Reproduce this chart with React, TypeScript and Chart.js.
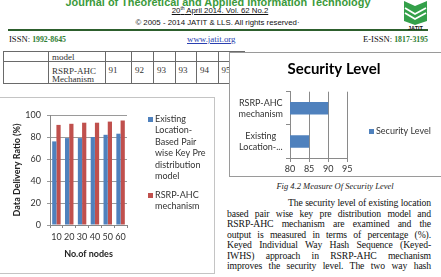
import React, { useEffect, useRef } from "react";
import { Chart, registerables } from "chart.js";

Chart.register(...registerables);

// ---- data ----
const nodeCounts = ["10", "20", "30", "40", "50", "60"];
const existingRatio = [76, 79, 79, 80, 82, 83];
const rsrpRatio = [91, 92, 93, 93, 94, 95];
const ratioSeriesNames = [
  "Existing Location-Based Pair wise Key Pre distribution model",
  "RSRP-AHC mechanism",
];
const ratioLegendLines = [
  ["Existing", "Location-", "Based Pair", "wise Key Pre", "distribution", "model"],
  ["RSRP-AHC", "mechanism"],
];
const ratioAxisTitle = "Data Delivery Ratio (%)";
const nodesAxisTitle = "No.of nodes";

const securityTitle = "Security Level";
const securityCategories = [["RSRP-AHC", "mechanism"], ["Existing", "Location-..."]];
const securityValues = [90, 85];
const securitySeriesName = "Security Level";

const tableValues = ["91", "92", "93", "93", "94", "95"];

const bodyLines = [
  "The security level of existing location",
  "based pair wise key pre distribution model and",
  "RSRP-AHC mechanism are examined and the",
  "output is measured in terms of percentage (%).",
  "Keyed Individual Way Hash Sequence (Keyed-",
  "IWHS) approach in RSRP-AHC mechanism",
  "improves the security level. The two way hash",
];

const BLUE = "#4f81bd";
const RED = "#c0504d";
const CHART_FONT = "Lato";

function RatioChart() {
  const ref = useRef<HTMLCanvasElement | null>(null);
  useEffect(() => {
    const legendPlugin = {
      id: "ratioLegend",
      afterDraw(chart: any) {
        const { ctx, chartArea } = chart;
        const x0 = chartArea.right + 21;
        const starts = [22, 98];
        ctx.save();
        ctx.font = `9px ${CHART_FONT}`;
        ctx.textBaseline = "middle";
        ctx.textAlign = "left";
        chart.data.datasets.forEach((ds: any, i: number) => {
          const y = starts[i];
          ctx.fillStyle = ds.backgroundColor;
          ctx.fillRect(x0, y - 2, 5, 5);
          ctx.fillStyle = "#333";
          ratioLegendLines[i].forEach((line, j) => ctx.fillText(line, x0 + 7, y + j * 11.5));
        });
        ctx.restore();
      },
    };
    const chart = new Chart(ref.current!, {
      type: "bar",
      data: {
        labels: nodeCounts,
        datasets: [
          { label: ratioSeriesNames[0], data: existingRatio, backgroundColor: BLUE, categoryPercentage: 0.66, barPercentage: 1 },
          { label: ratioSeriesNames[1], data: rsrpRatio, backgroundColor: RED, categoryPercentage: 0.66, barPercentage: 1 },
        ],
      },
      options: {
        responsive: false,
        animation: false,
        layout: { padding: { top: 18, right: 87, bottom: 0, left: 0 } },
        plugins: { legend: { display: false }, title: { display: false }, tooltip: { enabled: false } },
        scales: {
          x: {
            grid: { display: true, drawOnChartArea: false, drawTicks: true, tickLength: 3, color: "#888", offset: true },
            border: { display: true, color: "#888" },
            ticks: { font: { family: CHART_FONT, size: 9 }, color: "#333", padding: 4, maxRotation: 0, autoSkip: false },
            title: {
              display: true,
              text: nodesAxisTitle,
              font: { family: CHART_FONT, size: 9, weight: "bold" },
              color: "#222",
              padding: { top: 0, bottom: 14 },
            },
            afterFit: (s: any) => {
              s.height = 48;
            },
          },
          y: {
            min: 0,
            max: 100,
            ticks: { stepSize: 20, font: { family: CHART_FONT, size: 9 }, color: "#333", padding: 6 },
            grid: { color: "#9a9a9a", tickLength: 3 },
            border: { display: true, color: "#888" },
            title: {
              display: true,
              text: ratioAxisTitle,
              font: { family: CHART_FONT, size: 9, weight: "bold" },
              color: "#222",
              padding: { top: 11.5, bottom: 0 },
            },
            afterFit: (s: any) => {
              s.width = 50;
            },
          },
        },
      } as any,
      plugins: [legendPlugin],
    });
    return () => chart.destroy();
  }, []);
  return (
    <canvas
      ref={ref}
      width={214}
      height={176}
      style={{ position: "absolute", left: 0, top: 97, width: 214, height: 176 }}
    />
  );
}

function SecurityChart() {
  const ref = useRef<HTMLCanvasElement | null>(null);
  useEffect(() => {
    const decorPlugin = {
      id: "securityDecor",
      afterDraw(chart: any) {
        const { ctx } = chart;
        ctx.save();
        ctx.font = `bold 15px ${CHART_FONT}`;
        ctx.textAlign = "center";
        ctx.textBaseline = "middle";
        ctx.fillStyle = "#000";
        ctx.fillText(securityTitle, 104, 17.5);
        const ds = chart.data.datasets[0];
        ctx.fillStyle = ds.backgroundColor;
        ctx.fillRect(139, 77, 5, 5);
        ctx.font = `9px ${CHART_FONT}`;
        ctx.textAlign = "left";
        ctx.fillStyle = "#333";
        ctx.fillText(ds.label, 146, 79.5);
        ctx.restore();
      },
    };
    const chart = new Chart(ref.current!, {
      type: "bar",
      data: {
        labels: securityCategories as any,
        datasets: [
          { label: securitySeriesName, data: securityValues, backgroundColor: BLUE, categoryPercentage: 1, barPercentage: 0.38 },
        ],
      },
      options: {
        indexAxis: "y",
        responsive: false,
        animation: false,
        layout: { padding: { top: 39.7, right: 93.7, bottom: 0, left: 0 } },
        plugins: { legend: { display: false }, title: { display: false }, tooltip: { enabled: false } },
        scales: {
          x: {
            min: 80,
            max: 95,
            ticks: { stepSize: 5, font: { family: CHART_FONT, size: 9 }, color: "#333", padding: 1.5 },
            grid: { color: "#8a8a8a", tickLength: 4 },
            border: { display: true, color: "#8a8a8a" },
            afterFit: (s: any) => {
              s.height = 18;
            },
          },
          y: {
            grid: { display: true, drawOnChartArea: false, tickLength: 4, color: "#8a8a8a", offset: true },
            border: { display: true, color: "#8a8a8a" },
            ticks: { crossAlign: "center", padding: 3, font: { family: CHART_FONT, size: 9 }, color: "#333" },
            afterFit: (s: any) => {
              s.width = 60;
            },
          },
        },
      } as any,
      plugins: [decorPlugin],
    });
    return () => chart.destroy();
  }, []);
  return (
    <canvas
      ref={ref}
      width={211}
      height={124}
      style={{ position: "absolute", left: 230, top: 52, width: 211, height: 124 }}
    />
  );
}

const serif = "'Liberation Serif', 'Times New Roman', serif";
const sans = "'Liberation Sans', Arial, sans-serif";

function Header() {
  return (
    <>
      <div
        style={{
          position: "absolute", left: 0, width: 436, top: -3.2, textAlign: "center",
          fontFamily: sans, fontWeight: "bold", fontSize: 10.9, lineHeight: "10.9px", color: "#3b9a3b", whiteSpace: "nowrap",
        }}
      >
        Journal of Theoretical and Applied Information Technology
      </div>
      <div
        style={{
          position: "absolute", left: 0, width: 440, top: 7, textAlign: "center",
          fontFamily: sans, fontSize: 7.8, lineHeight: "8px", color: "#111", whiteSpace: "nowrap", textDecoration: "underline",
        }}
      >
        20<span style={{ fontSize: 5, verticalAlign: "3px", lineHeight: 0 }}>th</span> April 2014. Vol. 62 No.2
      </div>
      <div
        style={{
          position: "absolute", left: 0, width: 435, top: 19.4, textAlign: "center",
          fontFamily: sans, fontSize: 7.8, lineHeight: "8px", color: "#111", whiteSpace: "nowrap",
        }}
      >
        © 2005 - 2014 JATIT &amp; LLS. All rights reserved·
      </div>
      <div style={{ position: "absolute", left: 8, top: 29.3, width: 420, height: 1.6, background: "#2d5f2d" }} />
      <svg style={{ position: "absolute", left: 401, top: 0 }} width={29} height={30} viewBox="0 0 29 30">
        <polygon points="3,1 14,6 26,1 26,21 14,25 3,21" fill="#34a04a" />
        <polyline points="4,8 14,14 25,8" fill="none" stroke="#fff" strokeWidth={1.8} />
        <polyline points="4,13 14,19 25,13" fill="none" stroke="#fff" strokeWidth={1.8} />
        <text x={14.5} y={29.5} textAnchor="middle" fontFamily={sans} fontWeight="bold" fontSize={5.5} fill="#111">
          JATIT
        </text>
      </svg>
      <div
        style={{
          position: "absolute", left: 9, top: 34.8, fontFamily: serif, fontSize: 8.6, lineHeight: "9px",
          color: "#111", whiteSpace: "nowrap",
        }}
      >
        ISSN: <span style={{ color: "#2e7d32", fontWeight: "bold", fontSize: 7.8 }}>1992-8645</span>
      </div>
      <div
        style={{
          position: "absolute", left: 187, top: 34.6, fontFamily: serif, fontSize: 8.9, lineHeight: "9px",
          color: "#2a3fb0", whiteSpace: "nowrap", textDecoration: "underline",
        }}
      >
        www.jatit.org
      </div>
      <div
        style={{
          position: "absolute", right: 441 - 428, top: 34.8, fontFamily: serif, fontSize: 8.6, lineHeight: "9px",
          color: "#111", whiteSpace: "nowrap",
        }}
      >
        E-ISSN: <span style={{ color: "#2e7d32", fontWeight: "bold", fontSize: 7.8 }}>1817-3195</span>
      </div>
    </>
  );
}

function DataTable() {
  const colWidths = [45, 56.5, 26.5, 22, 21.5, 21.5, 21.5, 26];
  const cell: React.CSSProperties = {
    border: "1px solid #6a6a6a", padding: "0 0 0 3px", verticalAlign: "top", fontFamily: serif,
    fontSize: 9, lineHeight: "8.2px", color: "#333", overflow: "hidden", whiteSpace: "nowrap",
  };
  return (
    <table
      style={{
        position: "absolute", left: 3, top: 51.2, borderCollapse: "collapse", tableLayout: "fixed",
        width: colWidths.reduce((a, b) => a + b, 0),
      }}
    >
      <colgroup>
        {colWidths.map((w, i) => (
          <col key={i} style={{ width: w }} />
        ))}
      </colgroup>
      <tbody>
        <tr style={{ height: 10 }}>
          <td style={cell}></td>
          <td style={{ ...cell, paddingTop: 1 }}>model</td>
          {tableValues.map((_, i) => (
            <td key={i} style={cell}></td>
          ))}
        </tr>
        <tr style={{ height: 21.7 }}>
          <td style={cell}></td>
          <td style={{ ...cell, paddingTop: 4.5 }}>
            RSRP-AHC
            <br />
            Mechanism
          </td>
          {tableValues.map((v, i) => (
            <td key={i} style={{ ...cell, paddingTop: 3.5 }}>
              {v}
            </td>
          ))}
        </tr>
      </tbody>
    </table>
  );
}

function BodyText() {
  return (
    <>
      <div
        style={{
          position: "absolute", left: 229, width: 212, top: 182, textAlign: "center", fontFamily: serif,
          fontStyle: "italic", fontSize: 8.5, lineHeight: "9px", color: "#222", whiteSpace: "nowrap",
        }}
      >
        Fig 4.2 Measure Of Security Level
      </div>
      {bodyLines.map((line, i) => (
        <div
          key={i}
          style={{
            position: "absolute", left: i === 0 ? 288 : 227, width: i === 0 ? 143 : 204,
            top: 198.2 + i * 10.5, fontFamily: serif, fontSize: 9.7, letterSpacing: "-0.12px",
            lineHeight: "10px", color: "#111", textAlign: "justify", textAlignLast: "justify", whiteSpace: "normal",
          }}
        >
          {line}
        </div>
      ))}
    </>
  );
}

export default function App() {
  return (
    <div
      style={{
        position: "absolute", left: 0, top: 0, width: 441, height: 277, overflow: "hidden",
        background: "#fff",
      }}
    >
      <Header />
      <DataTable />
      <div
        style={{
          position: "absolute", left: -3, top: 97, width: 218, height: 177, boxSizing: "border-box",
          border: "1px solid #c4c4c4",
        }}
      />
      <RatioChart />
      <div
        style={{
          position: "absolute", left: 229, top: 51.5, width: 230, height: 125, boxSizing: "border-box",
          border: "1px solid #9a9a9a", background: "#fff",
        }}
      />
      <SecurityChart />
      <BodyText />
    </div>
  );
}
